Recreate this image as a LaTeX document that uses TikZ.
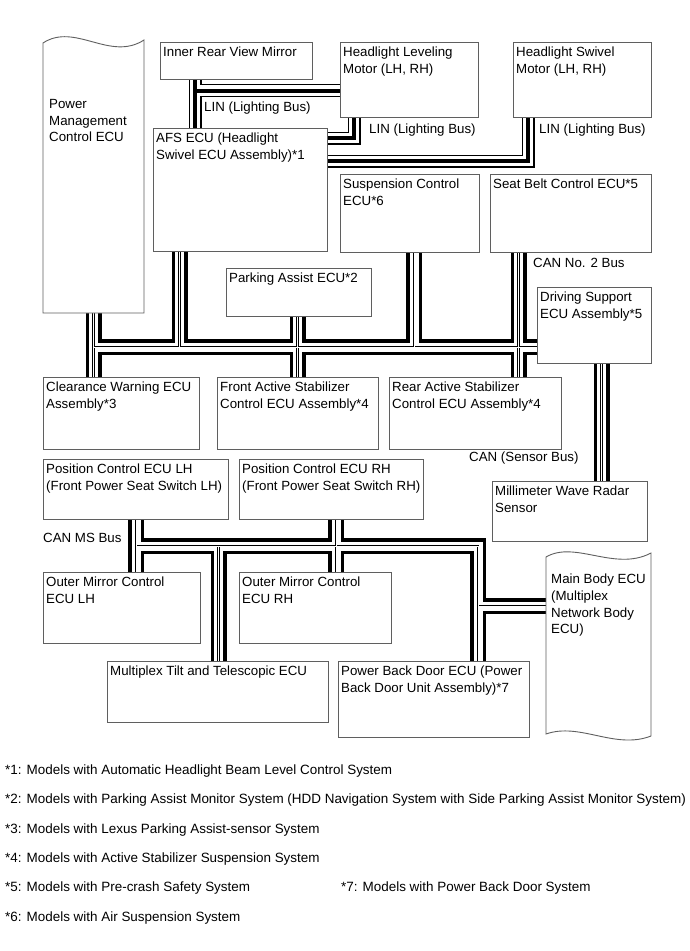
\documentclass[tikz,border=0pt]{standalone}
\usepackage{fontspec}
\setmainfont{Liberation Sans}
\usetikzlibrary{calc}
\pgfdeclarelayer{bg}
\pgfdeclarelayer{paper}
\pgfsetlayers{paper,bg,main}
\definecolor{boxc}{RGB}{95,95,95}
\newcommand\diafont{\fontsize{13.3pt}{16.7pt}\selectfont}
\newcommand\notefont{\fontsize{13.45pt}{16.7pt}\selectfont}
\tikzset{
  box/.style={draw=boxc, line width=0.9pt, fill=white, inner sep=0pt, anchor=north west},
  lbl/.style={anchor=north west, inner sep=0pt, align=left, font=\diafont, xshift=3pt, yshift=-4.5pt},
  txt/.style={inner sep=0pt, font=\diafont, align=left},
  note/.style={inner sep=0pt, font=\notefont, anchor=base west},
  ghost/.style={inner sep=0pt, anchor=north west},
  busbase/.style={line cap=butt, line join=miter},
  canA/.style={busbase, line width=16pt, black},
  canB/.style={busbase, line width=9pt, white},
  canC/.style={busbase, line width=2.4pt, black},
  canD/.style={busbase, line width=0.8pt, white},
  linA/.style={busbase, line width=13pt, black},
  linB/.style={busbase, line width=10.8pt, white},
  linC/.style={busbase, line width=4pt, black},
}
\begin{document}
\begin{tikzpicture}[x=1pt, y=-1pt]
\useasboundingbox (0,0) rectangle (689,951);
\begin{pgfonlayer}{paper}
  \fill[white] (0,0) rectangle (689,951);
\end{pgfonlayer}

% ---------- wavy boxes ----------
\draw[draw=boxc, line width=0.9pt, fill=white]
  (43,43) .. controls (75,22) and (110,62) .. (144,40) -- (144,313) -- (43,313) -- cycle;
\node[ghost, minimum width=101pt, minimum height=270pt] (pm) at (43,43) {};
\node[txt, anchor=north west] (pmt) at (49,99) {Power\\Management\\Control ECU};

\draw[draw=boxc, line width=0.9pt, fill=white]
  (546,557) .. controls (575,540) and (615,572) .. (651,553) -- (651,736)
  .. controls (615,750) and (580,722) .. (546,734) -- cycle;
\node[ghost, minimum width=105pt, minimum height=182pt] (mb) at (546,553) {};
\node[txt, anchor=north west] (mbt) at (551,574) {Main Body ECU\\(Multiplex\\Network Body\\ECU)};

% ---------- rectangular boxes ----------
\node[box, minimum width=152pt, minimum height=37pt, label={[lbl]north west:Inner Rear View Mirror}] (mirror) at (160,42) {};
\node[box, minimum width=138pt, minimum height=75pt, label={[lbl]north west:Headlight Leveling\\Motor (LH, RH)}] (lev) at (340,42) {};
\node[box, minimum width=138pt, minimum height=75pt, label={[lbl]north west:Headlight Swivel\\Motor (LH, RH)}] (swv) at (513,42) {};
\node[box, minimum width=174pt, minimum height=123pt, label={[lbl]north west:AFS ECU (Headlight\\Swivel ECU Assembly)*1}] (afs) at (153,128) {};
\node[box, minimum width=139pt, minimum height=78pt, label={[lbl]north west:Suspension Control\\ECU*6}] (susp) at (340,174) {};
\node[box, minimum width=161pt, minimum height=78pt, label={[lbl]north west:Seat Belt Control ECU*5}] (sbelt) at (490,174) {};
\node[box, minimum width=145pt, minimum height=48pt, label={[lbl]north west:Parking Assist ECU*2}] (park) at (226,268) {};
\node[box, minimum width=114pt, minimum height=76pt, label={[lbl]north west:Driving Support\\ECU Assembly*5}] (drv) at (537,287) {};
\node[box, minimum width=156pt, minimum height=72pt, label={[lbl]north west:Clearance Warning ECU\\Assembly*3}] (cw) at (43,377) {};
\node[box, minimum width=161pt, minimum height=72pt, label={[lbl]north west:Front Active Stabilizer\\Control ECU Assembly*4}] (fas) at (217,377) {};
\node[box, minimum width=172pt, minimum height=72pt, label={[lbl]north west:Rear Active Stabilizer\\Control ECU Assembly*4}] (ras) at (389,377) {};
\node[box, minimum width=185pt, minimum height=60pt, label={[lbl]north west:Position Control ECU LH\\(Front Power Seat Switch LH)}] (pcl) at (43,459) {};
\node[box, minimum width=184pt, minimum height=60pt, label={[lbl]north west:Position Control ECU RH\\(Front Power Seat Switch RH)}] (pcr) at (239,459) {};
\node[box, minimum width=155pt, minimum height=60pt, label={[lbl]north west:Millimeter Wave Radar\\Sensor}] (mwr) at (492,481) {};
\node[box, minimum width=157pt, minimum height=71pt, label={[lbl]north west:Outer Mirror Control\\ECU LH}] (oml) at (43,572) {};
\node[box, minimum width=152pt, minimum height=71pt, label={[lbl]north west:Outer Mirror Control\\ECU RH}] (omr) at (239,572) {};
\node[box, minimum width=221pt, minimum height=61pt, label={[lbl]north west:Multiplex Tilt and Telescopic ECU}] (tilt) at (107,661) {};
\node[box, minimum width=191pt, minimum height=76pt, label={[lbl]north west:Power Back Door ECU (Power\\Back Door Unit Assembly)*7}] (pbd) at (338,661) {};

% ---------- bus labels ----------
\node[txt, anchor=west] (l1) at (204,108) {LIN (Lighting Bus)};
\node[txt, anchor=west] (l2) at (369,130) {LIN (Lighting Bus)};
\node[txt, anchor=west] (l3) at (539,130) {LIN (Lighting Bus)};
\node[txt, anchor=west] (l4) at (533,263) {CAN No. 2 Bus};
\node[txt, anchor=west] (l5) at (469,458) {CAN (Sensor Bus)};
\node[txt, anchor=west] (l6) at (43,538) {CAN MS Bus};

% ---------- footnotes ----------
\node[note] (f1) at (5,774.7) {*1: Models with Automatic Headlight Beam Level Control System};
\node[note] (f2) at (5,803.7) {*2: Models with Parking Assist Monitor System (HDD Navigation System with Side Parking Assist Monitor System)};
\node[note] (f3) at (5,833.7) {*3: Models with Lexus Parking Assist-sensor System};
\node[note] (f4) at (5,862.7) {*4: Models with Active Stabilizer Suspension System};
\node[note] (f5) at (5,891.7) {*5: Models with Pre-crash Safety System};
\node[note] (f7) at (341,891.7) {*7: Models with Power Back Door System};
\node[note] (f6) at (5,921.7) {*6: Models with Air Suspension System};

% ---------- bus junction coordinates ----------
\coordinate (jPM) at (93.5,347);
\coordinate (jAFS) at (179.5,347);
\coordinate (jPA) at (297.5,347);
\coordinate (jSC) at (414,347);
\coordinate (jSB) at (518.5,347);
\coordinate (jR) at (601.5,420);
\coordinate (kL) at (136,546);
\coordinate (kT) at (218.5,546);
\coordinate (kR) at (336,546);
\coordinate (kC) at (478,546);
\coordinate (kB) at (478,606);
\coordinate (m1) at (195,90.5);
\coordinate (m2) at (354,138);
\coordinate (m3) at (528,161);

\def\canpaths{
 ($(pm.south -| jPM)+(0,-3)$) -- ($(cw.north -| jPM)+(0,3)$)
 ($(afs.south -| jAFS)+(0,-3)$) -- (jAFS)
 ($(park.south -| jPA)+(0,-3)$) -- ($(fas.north -| jPA)+(0,3)$)
 ($(susp.south -| jSC)+(0,-3)$) -- (jSC)
 ($(sbelt.south -| jSB)+(0,-3)$) -- ($(ras.north -| jSB)+(0,3)$)
 (jPM) -- ($(drv.west |- jPM)+(3,0)$)
 ($(drv.south -| jR)+(0,-3)$) -- ($(mwr.north -| jR)+(0,3)$)
 ($(pcl.south -| kL)+(0,-3)$) -- ($(oml.north -| kL)+(0,3)$)
 ($(pcr.south -| kR)+(0,-3)$) -- ($(omr.north -| kR)+(0,3)$)
 (kT) -- ($(tilt.north -| kT)+(0,3)$)
 (kL) -- (kC) -- ($(pbd.north -| kC)+(0,3)$)
 (kB) -- ($(mb.west |- kB)+(3,0)$)
}
\def\linpaths{
 ($(mirror.south -| m1)+(0,-3)$) -- ($(afs.north -| m1)+(0,3)$)
 (m1) -- ($(lev.west |- m1)+(3,0)$)
 ($(afs.east |- m2)+(-3,0)$) -- (m2) -- ($(lev.south -| m2)+(0,-3)$)
 ($(afs.east |- m3)+(-3,0)$) -- (m3) -- ($(swv.south -| m3)+(0,-3)$)
}

\begin{pgfonlayer}{bg}
  \draw[canA] \canpaths;
  \draw[canB] \canpaths;
  \draw[canC] \canpaths;
  \draw[canD] \canpaths;
  \draw[linA] \linpaths;
  \draw[linB] \linpaths;
  \draw[linC] \linpaths;
\end{pgfonlayer}
\end{tikzpicture}
\end{document}
